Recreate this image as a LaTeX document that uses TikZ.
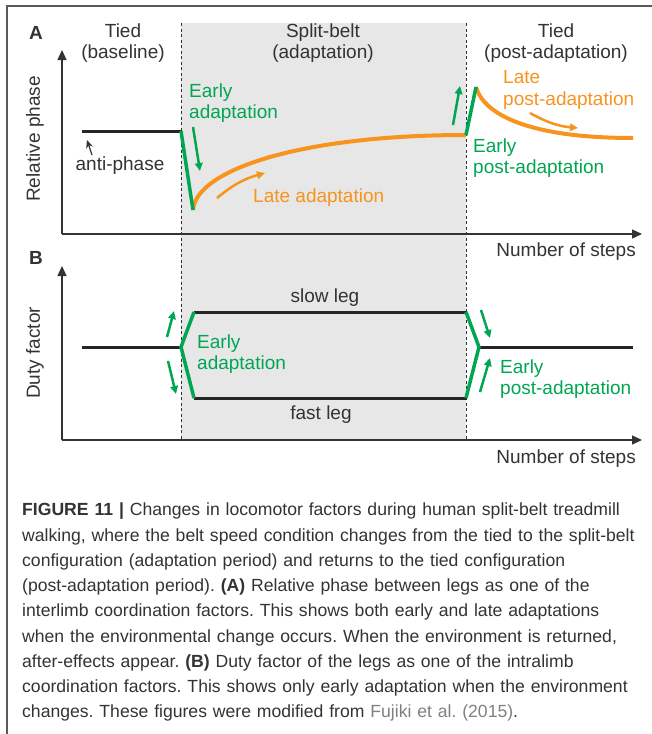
\documentclass[tikz,border=0pt]{standalone}
\usepackage{fontspec}
\setmainfont{Liberation Sans}
\usepackage{tikz}
\usetikzlibrary{arrows.meta}
\definecolor{adgreen}{HTML}{00A651}
\definecolor{adorange}{HTML}{F7941D}
\definecolor{beltgray}{HTML}{E7E7E7}
\definecolor{ink}{HTML}{333333}
\frenchspacing

\begin{document}
\begin{tikzpicture}[x=1pt,y=-1pt,
	lbl/.style={text=ink,font=\fontsize{19}{21.5}\selectfont,inner sep=0pt,align=center},
	glbl/.style={lbl,text=adgreen,align=left,anchor=west},
	olbl/.style={lbl,text=adorange,align=left,anchor=west},
	axis/.style={draw=ink,line width=1.4pt,-{Triangle[length=10pt,width=9pt]}},
	level/.style={draw=black!85,line width=3pt},
	jump/.style={draw=adgreen,line width=3.5pt},
	trend/.style={draw=adorange,line width=4pt},
	hint/.style={line width=2.5pt,-{Triangle[length=8pt,width=7.5pt]}},
	switch/.style={draw=ink,line width=0.9pt,dash pattern=on 3pt off 2.5pt}]
	\newcommand\PhaseSpan{(181,23) rectangle (466,440)}

	\useasboundingbox (0,0) rectangle (652,734);
	\fill[beltgray] \PhaseSpan;
	\draw[gray!70!black,line width=1.5pt] (652,6) -- (7,6) -- (7,734);

	\draw[switch] (181,23) -- (181,440);
	\draw[switch] (466,23) -- (466,440);

	% A
	\node[font=\fontsize{19}{19}\selectfont\bfseries,text=ink] (pA) at (36,33) {A};
	\coordinate (Ao) at (62,234);
	\draw[axis] (Ao) -- (62,50);
	\draw[axis] (Ao) -- (642,234);

	\coordinate (a0) at (82,131);
	\coordinate (a1) at (181,131);
	\coordinate (a2) at (193,210);
	\coordinate (a3) at (466,135);
	\coordinate (a4) at (476,87);
	\coordinate (a5) at (633,138);
	\draw[level] (a0) -- (a1);
	\draw[trend] (a2) .. controls (196,170) and (300,135) .. (a3);
	\draw[trend] (a4) .. controls (484,115) and (530,138) .. (a5);
	\draw[jump] (a1) -- (a2);
	\draw[jump] (a3) -- (a4);

	\draw[hint,adgreen] (193,127) -- (200,171);
	\draw[hint,adorange] (217,198) to[bend left=12] (265,173);
	\draw[hint,adgreen] (453,125) -- (460,86);
	\draw[hint,adorange] (530,113) to[bend right=12] (578,128);
	\draw[ink,line width=1.2pt,-{Stealth[length=8pt,width=7pt]}] (92,155) -- (87,140);

	\node[lbl] (tied1) at (123,43) {Tied\\(baseline)};
	\node[lbl] (split) at (323,43) {Split-belt\\(adaptation)};
	\node[lbl] (tied2) at (556,43) {Tied\\(post-adaptation)};
	\node[lbl,rotate=90] (yA) at (35,139) {Relative phase};
	\node[lbl,anchor=east] (xA) at (636,252) {Number of steps};
	\node[lbl] (anti) at (120,166) {anti-phase};
	\node[glbl] (earlyA) at (189,103) {Early\\adaptation};
	\node[olbl] (lateA) at (253,198) {Late adaptation};
	\node[olbl] (lateP) at (503,90) {Late\\post-adaptation};
	\node[glbl] (earlyP) at (473,158) {Early\\post-adaptation};

	% B
	\node[font=\fontsize{19}{19}\selectfont\bfseries,text=ink] (pB) at (36,258) {B};
	\coordinate (Bo) at (62,440);
	\draw[axis] (Bo) -- (62,266);
	\draw[axis] (Bo) -- (642,440);

	\coordinate (b0) at (82,347);
	\coordinate (b1) at (181,347);
	\coordinate (b2) at (194,312);
	\coordinate (b3) at (194,398);
	\coordinate (b4) at (466,312);
	\coordinate (b5) at (466,398);
	\coordinate (b6) at (479,347);
	\coordinate (b7) at (633,347);
	\draw[level] (b0) -- (b1);
	\draw[level] (b2) -- (b4);
	\draw[level] (b3) -- (b5);
	\draw[level] (b6) -- (b7);
	\draw[jump] (b2) -- (b1) -- (b3);
	\draw[jump] (b4) -- (b6) -- (b5);

	\draw[hint,adgreen] (167,337) -- (174,311);
	\draw[hint,adgreen] (168,361) -- (176,394);
	\draw[hint,adgreen] (481,310) -- (490,338);
	\draw[hint,adgreen] (480,392) -- (490,358);

	\node[lbl,rotate=90] (yB) at (35,353) {Duty factor};
	\node[lbl,anchor=east] (xB) at (636,459) {Number of steps};
	\node[lbl] (slow) at (325,298) {slow leg};
	\node[lbl] (fast) at (321,415) {fast leg};
	\node[glbl] (earlyB) at (197,354) {Early\\adaptation};
	\node[glbl] (earlyPB) at (500,379) {Early\\post-adaptation};

	% caption
	\node[anchor=north west,inner sep=0pt,text width=700pt,align=left,text=ink,
		font=\fontsize{17.6}{25.25}\selectfont] (cap) at (22,503) {%
		{\bfseries FIGURE 11 |} Changes in locomotor factors during human split-belt treadmill\\
		walking, where the belt speed condition changes from the tied to the split-belt\\
		configuration (adaptation period) and returns to the tied configuration\\
		(post-adaptation period). {\bfseries (A)} Relative phase between legs as one of the\\
		interlimb coordination factors. This shows both early and late adaptations\\
		when the environmental change occurs. When the environment is returned,\\
		after-effects appear. {\bfseries (B)} Duty factor of the legs as one of the intralimb\\
		coordination factors. This shows only early adaptation when the environment\\
		changes. These figures were modified from \textcolor{gray}{Fujiki et al. (2015)}.};
\end{tikzpicture}
\end{document}
